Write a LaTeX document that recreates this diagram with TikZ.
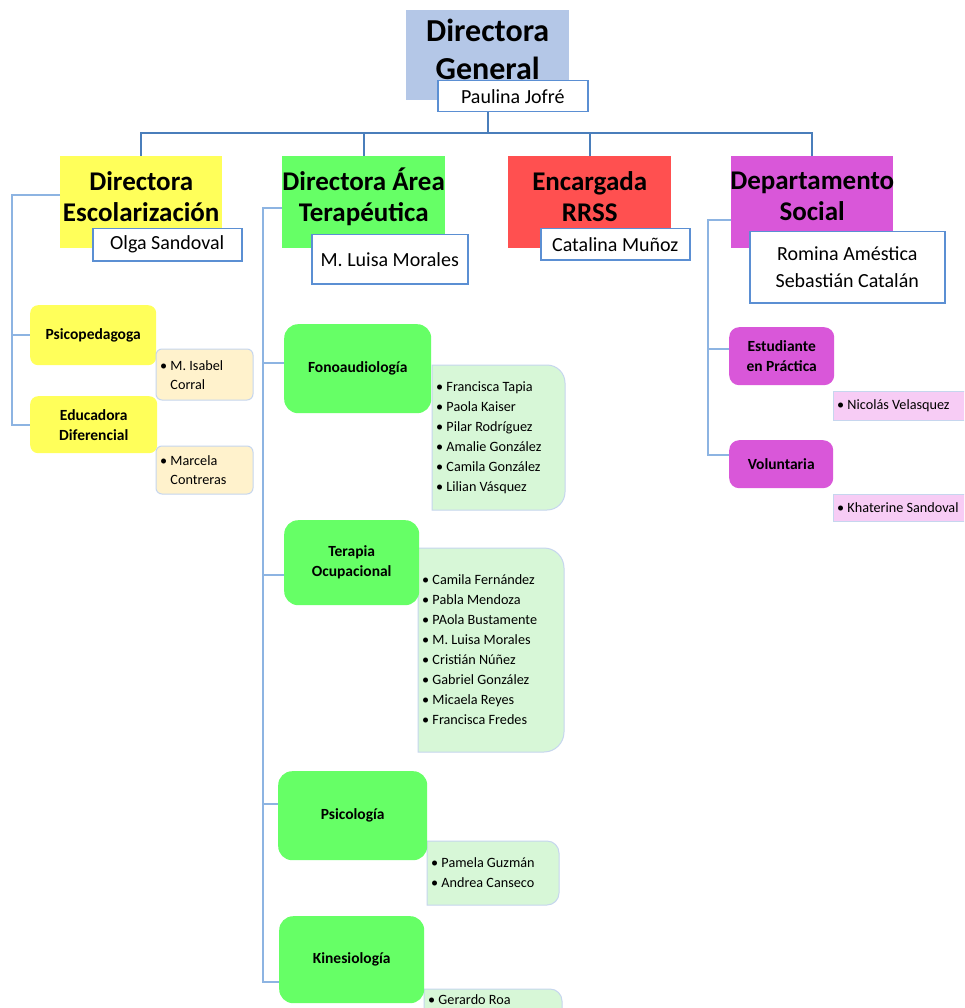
\documentclass[tikz,border=0pt]{standalone}
\usepackage{fontspec}
\setmainfont{Carlito}
\tikzset{>=latex}
\definecolor{azulDG}{HTML}{B4C7E7}
\definecolor{amarillo}{HTML}{FFFF5A}
\definecolor{verde}{HTML}{66FF66}
\definecolor{rojo}{HTML}{FF5050}
\definecolor{morado}{HTML}{D957D9}
\definecolor{crema}{HTML}{FFF2CC}
\definecolor{verdeclaro}{HTML}{D7F7D7}
\definecolor{rosa}{HTML}{F7CCF5}
\definecolor{borde}{HTML}{5B8FD3}
\definecolor{bordelista}{HTML}{C6D6EE}
\definecolor{tronco}{HTML}{4A7EBB}
\definecolor{ramaazul}{HTML}{8DB4E2}
\tikzset{
  jefe/.style={anchor=north west,inner sep=0pt},
  jefetxt/.style={align=center,inner sep=0pt,font=\bfseries\fontsize{27}{31}\selectfont},
  nombre/.style={anchor=north west,draw=borde,fill=white,line width=1.5pt,inner sep=0pt,align=center,font=\fontsize{20}{27}\selectfont},
  area/.style={anchor=north west,rounded corners=#1,inner sep=0pt,align=center,font=\bfseries\fontsize{15.5}{20}\selectfont},
  area/.default=12pt,
  lista/.style={draw=bordelista,line width=1pt},
  listatxt/.style={anchor=west,inner sep=0pt,align=left,font=\fontsize{14.2}{20}\selectfont},
  linea/.style={draw=tronco,line width=1.6pt},
  conector/.style={draw=ramaazul,line width=1.6pt}
}

\begin{document}
\begin{tikzpicture}[x=1pt,y=-1pt]
	\useasboundingbox (0,0) rectangle (964,1008);
	\fill[white] (0,0) rectangle (964,1008);
	\clip (0,0) rectangle (964,1008);

	% direccion general
	\node[jefe,fill=azulDG,minimum width=163,minimum height=90] (general) at (406,10) {};
	\node[jefetxt,font=\bfseries\fontsize{32}{38}\selectfont] (generalTxt) at ([yshift=6pt]general.center) {Directora\\General};
	\node[nombre,minimum width=150,minimum height=31] (jofre) at (437,80) {Paulina Jofré};

	% segundo nivel
	\node[jefe,fill=amarillo,minimum width=162,minimum height=92] (escol) at (60,156) {};
	\node[jefetxt] (escolTxt) at ([yshift=5.5pt]escol.center) {Directora\\Escolarización};
	\node[nombre,minimum width=149,minimum height=32] (olga) at (92,228) {Olga Sandoval};

	\node[jefe,fill=verde,minimum width=163,minimum height=92] (terap) at (282,156) {};
	\node[jefetxt] (terapTxt) at ([yshift=5.5pt]terap.center) {Directora Área\\Terapéutica};
	\node[nombre,minimum width=156,minimum height=49] (luisa) at (311,234) {M. Luisa Morales};

	\node[jefe,fill=rojo,minimum width=163,minimum height=92] (rrss) at (508,156) {};
	\node[jefetxt] (rrssTxt) at ([yshift=5.5pt]rrss.center) {Encargada\\RRSS};
	\node[nombre,minimum width=149,minimum height=31] (catalina) at (540,228) {Catalina Muñoz};

	\node[jefe,fill=morado,minimum width=162,minimum height=92] (social) at (731,156) {};
	\node[jefetxt] (socialTxt) at ([yshift=5.5pt]social.center) {Departamento\\Social};
	\node[nombre,minimum width=195,minimum height=71] (romina) at (749,231) {Romina Améstica\\Sebastián Catalán};

	% lineas principales
	\draw[linea] (general.south |- jofre.south) -- ++(0,22);
	\draw[linea] (escol.north) -- ++(0,-23) -| (social.north);
	\draw[linea] (terap.north) -- ++(0,-23);
	\draw[linea] (rrss.north) -- ++(0,-23);

	% escolarizacion
	\node[area=8pt,fill=amarillo,minimum width=126,minimum height=60] (psico) at (30,305) {Psicopedagoga};
	\node[area=8pt,fill=amarillo,minimum width=127,minimum height=57] (educ) at (30,396) {Educadora\\Diferencial};
	\draw[lista,fill=crema,rounded corners=6pt] (156,349) rectangle (253,400);
	\node[listatxt,font=\fontsize{14.2}{18.5}\selectfont] (isabel) at (160,375) {• M. Isabel\\\hphantom{• }Corral};
	\draw[lista,fill=crema,rounded corners=6pt] (156,446) rectangle (253,494);
	\node[listatxt,font=\fontsize{14.2}{18.5}\selectfont] (marcela) at (160,470) {• Marcela\\\hphantom{• }Contreras};
	\coordinate (ejeE) at (12,0);
	\draw[conector] ([yshift=7pt]escol.west) -| (ejeE |- educ.west) -- (educ.west);
	\draw[conector] (ejeE |- psico.west) -- (psico.west);

	% area terapeutica
	\draw[lista,fill=verdeclaro] (432,365) [rounded corners=18pt] -- (565,365) -- (565,510) [sharp corners] -- (432,510) -- cycle;
	\draw[lista,fill=verdeclaro] (418,548) [rounded corners=20pt] -- (564,548) -- (564,752) [sharp corners] -- (418,752) -- cycle;
	\draw[lista,fill=verdeclaro] (427,841) [rounded corners=12pt] -- (559,841) -- (559,905) [sharp corners] -- (427,905) -- cycle;
	\draw[lista,fill=verdeclaro] (424,989) [rounded corners=12pt] -- (562,989) -- (562,1040) [sharp corners] -- (424,1040) -- cycle;
	\node[area=14pt,fill=verde,minimum width=147,minimum height=89] (fono) at (284,324) {Fonoaudiología};
	\node[area=14pt,fill=verde,minimum width=135,minimum height=85] (toc) at (284,520) {Terapia\\Ocupacional};
	\node[area=14pt,fill=verde,minimum width=149,minimum height=89] (psi) at (278,771) {Psicología};
	\node[area=14pt,fill=verde,minimum width=145,minimum height=87] (kine) at (279,916) {Kinesiología};
	\node[listatxt] (fonoLista) at (436,437.5) {• Francisca Tapia\\• Paola Kaiser\\• Pilar Rodríguez\\• Amalie González\\• Camila González\\• Lilian Vásquez};
	\node[listatxt] (tocLista) at (422,650) {• Camila Fernández\\• Pabla Mendoza\\• PAola Bustamente\\• M. Luisa Morales\\• Cristián Núñez\\• Gabriel González\\• Micaela Reyes\\• Francisca Fredes};
	\node[listatxt] (psiLista) at (431,873) {• Pamela Guzmán\\• Andrea Canseco};
	\node[listatxt] (kineLista) at (428,1000) {• Gerardo Roa};
	\coordinate (ejeT) at (263,0);
	\coordinate (rKine) at ([yshift=-22.5pt]kine.west);
	\coordinate (rFono) at ([yshift=5.5pt]fono.west);
	\coordinate (rToc) at ([yshift=-12.5pt]toc.west);
	\coordinate (rPsi) at ([yshift=11.5pt]psi.west);
	\draw[conector] ([yshift=-6pt]terap.west) -| (ejeT |- rKine) -- (rKine);
	\draw[conector] (ejeT |- rFono) -- (rFono);
	\draw[conector] (ejeT |- rToc) -- (rToc);
	\draw[conector] (ejeT |- rPsi) -- (rPsi);

	% departamento social
	\node[area=10pt,fill=morado,minimum width=105,minimum height=58] (estud) at (729,327) {Estudiante\\en Práctica};
	\node[area=10pt,fill=morado,minimum width=104,minimum height=48] (volun) at (729,440) {Voluntaria};
	\draw[lista,fill=rosa] (833,391) rectangle (970,420);
	\node[listatxt] (nicolas) at (837,406) {• Nicolás Velasquez};
	\draw[lista,fill=rosa] (833,494) rectangle (970,521);
	\node[listatxt] (khaterine) at (837,508) {• Khaterine Sandoval};
	\coordinate (ejeS) at (708,0);
	\coordinate (rEstud) at ([yshift=7pt]estud.west);
	\coordinate (rVolun) at ([yshift=9pt]volun.west);
	\draw[conector] ([yshift=-18pt]social.west) -| (ejeS |- rVolun) -- (rVolun);
	\draw[conector] (ejeS |- rEstud) -- (rEstud);
\end{tikzpicture}
\end{document}
